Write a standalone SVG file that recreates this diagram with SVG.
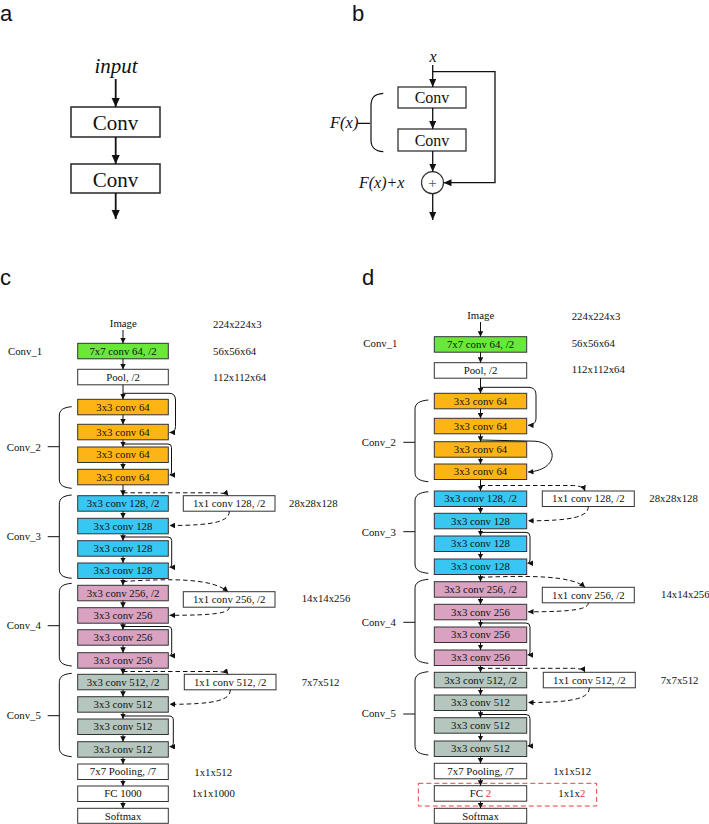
<svg xmlns="http://www.w3.org/2000/svg" width="709" height="824" viewBox="0 0 709 824">
<style>
.bg{fill:#fff}
.box{stroke:#333;stroke-width:1}
.t{font-family:"Liberation Serif","Times New Roman",serif;font-size:10.8px;fill:#111}
.c{text-anchor:middle}
.it{font-style:italic}
.lab{font-family:"Liberation Sans",Arial,sans-serif;font-size:22px;fill:#111}
.ln{fill:none;stroke:#111;stroke-width:1}
.dash{stroke-dasharray:4.5 3}
.g{fill:#6AE83A}.o{fill:#FDB515}.b{fill:#38C6F2}.p{fill:#D8A2C0}.gr{fill:#B4C6BE}.w{fill:#fff}
.red{fill:#E53935}
</style>
<defs>
<marker id="ahA" markerUnits="userSpaceOnUse" markerWidth="9" markerHeight="9" refX="10" refY="4.5" orient="auto" viewBox="0 0 10 9"><path d="M0,0 L10,4.5 L0,9 z" fill="#111"/></marker>
<marker id="ahB" markerUnits="userSpaceOnUse" markerWidth="8" markerHeight="7" refX="8" refY="3.5" orient="auto" viewBox="0 0 8 7"><path d="M0,0 L8,3.5 L0,7 z" fill="#111"/></marker>
<marker id="ah" markerUnits="userSpaceOnUse" markerWidth="5.5" markerHeight="5.6" refX="5.5" refY="2.8" orient="auto" viewBox="0 0 5.5 5.6"><path d="M0,0 L5.5,2.8 L0,5.6 z" fill="#111"/></marker>
</defs>
<rect class="bg" x="0" y="0" width="709" height="824"/>

<!-- panel labels -->
<text class="lab" x="0" y="21">a</text>
<text class="lab" x="352" y="20.5">b</text>
<text class="lab" x="0" y="285">c</text>
<text class="lab" x="362" y="285">d</text>

<!-- ===== Panel a ===== -->
<g id="a-input"><text class="t c it" x="116" y="73" style="font-size:21px">input</text></g>
<g id="a-conv1"><rect class="box w" x="71" y="107" width="89" height="30" style="stroke-width:1.6"/><text class="t c" x="115.5" y="129.5" style="font-size:21px">Conv</text></g>
<g id="a-conv2"><rect class="box w" x="71" y="164" width="89" height="29" style="stroke-width:1.6"/><text class="t c" x="115.5" y="186.5" style="font-size:21px">Conv</text></g>

<!-- ===== Panel b ===== -->
<g id="b-x"><text class="t c it" x="433" y="61.5" style="font-size:16px">x</text></g>
<g id="b-conv1"><rect class="box w" x="398" y="87" width="68" height="21" style="stroke-width:1.3"/><text class="t c" x="432" y="103" style="font-size:16px">Conv</text></g>
<g id="b-conv2"><rect class="box w" x="398" y="129" width="68" height="22" style="stroke-width:1.3"/><text class="t c" x="432" y="145.5" style="font-size:16px">Conv</text></g>
<g id="b-add"><circle cx="432.5" cy="182.7" r="11" fill="#fff" stroke="#333" stroke-width="1.2"/><text class="t c" x="432.5" y="188" style="font-size:15px;fill:#555">+</text></g>
<g id="b-fx"><text class="t it" x="330" y="128" style="font-size:16.5px">F(x)</text></g>
<g id="b-fxx"><text class="t it" x="359" y="188" style="font-size:16px">F(x)+x</text></g>

<!-- ===== Panel c nodes ===== -->
<g id="c-image"><text class="t c" x="123.3" y="327">Image</text></g>
<g id="c-conv1"><rect class="box g" x="77.7" y="343.3" width="90.6" height="15.5"/><text class="t c" x="123" y="354.7">7x7 conv 64, /2</text></g>
<g id="c-pool"><rect class="box w" x="77.7" y="369.3" width="90.6" height="15.5"/><text class="t c" x="123" y="380.7">Pool, /2</text></g>
<g id="c-o1"><rect class="box o" x="77.7" y="399.3" width="90.6" height="15.5"/><text class="t c" x="123" y="410.7">3x3 conv 64</text></g>
<g id="c-o2"><rect class="box o" x="77.7" y="424.3" width="90.6" height="15.5"/><text class="t c" x="123" y="435.7">3x3 conv 64</text></g>
<g id="c-o3"><rect class="box o" x="77.7" y="447" width="90.6" height="15.5"/><text class="t c" x="123" y="458.4">3x3 conv 64</text></g>
<g id="c-o4"><rect class="box o" x="77.7" y="469.3" width="90.6" height="15.5"/><text class="t c" x="123" y="480.7">3x3 conv 64</text></g>
<g id="c-b1"><rect class="box b" x="77.7" y="495.7" width="90.6" height="15.5"/><text class="t c" x="123" y="507.1">3x3 conv 128, /2</text></g>
<g id="c-b2"><rect class="box b" x="77.7" y="518.3" width="90.6" height="15.5"/><text class="t c" x="123" y="529.7">3x3 conv 128</text></g>
<g id="c-b3"><rect class="box b" x="77.7" y="540.7" width="90.6" height="15.5"/><text class="t c" x="123" y="552.1">3x3 conv 128</text></g>
<g id="c-b4"><rect class="box b" x="77.7" y="563" width="90.6" height="15.5"/><text class="t c" x="123" y="574.4">3x3 conv 128</text></g>
<g id="c-p1"><rect class="box p" x="77.7" y="585.3" width="90.6" height="15.5"/><text class="t c" x="123" y="596.7">3x3 conv 256, /2</text></g>
<g id="c-p2"><rect class="box p" x="77.7" y="607.7" width="90.6" height="15.5"/><text class="t c" x="123" y="619.1">3x3 conv 256</text></g>
<g id="c-p3"><rect class="box p" x="77.7" y="629.7" width="90.6" height="15.5"/><text class="t c" x="123" y="641.1">3x3 conv 256</text></g>
<g id="c-p4"><rect class="box p" x="77.7" y="652.7" width="90.6" height="15.5"/><text class="t c" x="123" y="664.1">3x3 conv 256</text></g>
<g id="c-g1"><rect class="box gr" x="77.7" y="674.3" width="90.6" height="15.5"/><text class="t c" x="123" y="685.7">3x3 conv 512, /2</text></g>
<g id="c-g2"><rect class="box gr" x="77.7" y="696.7" width="90.6" height="15.5"/><text class="t c" x="123" y="708.1">3x3 conv 512</text></g>
<g id="c-g3"><rect class="box gr" x="77.7" y="719" width="90.6" height="15.5"/><text class="t c" x="123" y="730.4">3x3 conv 512</text></g>
<g id="c-g4"><rect class="box gr" x="77.7" y="741.7" width="90.6" height="15.5"/><text class="t c" x="123" y="753.1">3x3 conv 512</text></g>
<g id="c-avg"><rect class="box w" x="77.7" y="764" width="90.6" height="15.5"/><text class="t c" x="123" y="775.4">7x7 Pooling, /7</text></g>
<g id="c-fc"><rect class="box w" x="77.7" y="786" width="90.6" height="15.5"/><text class="t c" x="123" y="797.4">FC 1000</text></g>
<g id="c-soft"><rect class="box w" x="77.7" y="808.3" width="90.6" height="15"/><text class="t c" x="123" y="819.5">Softmax</text></g>
<g id="c-s3"><rect class="box w" x="183.3" y="495.7" width="91.7" height="15.5"/><text class="t c" x="229.2" y="507.1">1x1 conv 128, /2</text></g>
<g id="c-s4"><rect class="box w" x="183.3" y="591.7" width="91.7" height="15.5"/><text class="t c" x="229.2" y="603.1">1x1 conv 256, /2</text></g>
<g id="c-s5"><rect class="box w" x="184.3" y="674.3" width="91.7" height="15.5"/><text class="t c" x="230.2" y="685.7">1x1 conv 512, /2</text></g>

<g id="c-labels">
<text class="t" x="8" y="355">Conv_1</text>
<text class="t" x="6.7" y="450.5">Conv_2</text>
<text class="t" x="6.7" y="540">Conv_3</text>
<text class="t" x="6.7" y="629">Conv_4</text>
<text class="t" x="6.7" y="719.3">Conv_5</text>
<text class="t" x="213" y="328">224x224x3</text>
<text class="t" x="213" y="355">56x56x64</text>
<text class="t" x="213" y="381">112x112x64</text>
<text class="t" x="289" y="506.7">28x28x128</text>
<text class="t" x="301.7" y="601.7">14x14x256</text>
<text class="t" x="301.7" y="685.7">7x7x512</text>
<text class="t" x="194.3" y="775.7">1x1x512</text>
<text class="t" x="191.7" y="797.3">1x1x1000</text>
</g>

<!-- ===== Panel d nodes ===== -->
<g id="d-image"><text class="t c" x="480.7" y="319">Image</text></g>
<g id="d-conv1"><rect class="box g" x="434.3" y="336.7" width="92.4" height="15.5"/><text class="t c" x="480.5" y="348.1">7x7 conv 64, /2</text></g>
<g id="d-pool"><rect class="box w" x="434.3" y="362.7" width="92.4" height="15.5"/><text class="t c" x="480.5" y="374.1">Pool, /2</text></g>
<g id="d-o1"><rect class="box o" x="434.3" y="393.3" width="92.4" height="15.5"/><text class="t c" x="480.5" y="404.7">3x3 conv 64</text></g>
<g id="d-o2"><rect class="box o" x="434.3" y="418.3" width="92.4" height="15.5"/><text class="t c" x="480.5" y="429.7">3x3 conv 64</text></g>
<g id="d-o3"><rect class="box o" x="434.3" y="441.7" width="92.4" height="15.5"/><text class="t c" x="480.5" y="453.1">3x3 conv 64</text></g>
<g id="d-o4"><rect class="box o" x="434.3" y="464" width="92.4" height="15.5"/><text class="t c" x="480.5" y="475.4">3x3 conv 64</text></g>
<g id="d-b1"><rect class="box b" x="434.3" y="491" width="92.4" height="15.5"/><text class="t c" x="480.5" y="502.4">3x3 conv 128, /2</text></g>
<g id="d-b2"><rect class="box b" x="434.3" y="513.3" width="92.4" height="15.5"/><text class="t c" x="480.5" y="524.7">3x3 conv 128</text></g>
<g id="d-b3"><rect class="box b" x="434.3" y="536" width="92.4" height="15.5"/><text class="t c" x="480.5" y="547.4">3x3 conv 128</text></g>
<g id="d-b4"><rect class="box b" x="434.3" y="559" width="92.4" height="15.5"/><text class="t c" x="480.5" y="570.4">3x3 conv 128</text></g>
<g id="d-p1"><rect class="box p" x="434.3" y="581.7" width="92.4" height="15.5"/><text class="t c" x="480.5" y="593.1">3x3 conv 256, /2</text></g>
<g id="d-p2"><rect class="box p" x="434.3" y="604.3" width="92.4" height="15.5"/><text class="t c" x="480.5" y="615.7">3x3 conv 256</text></g>
<g id="d-p3"><rect class="box p" x="434.3" y="627" width="92.4" height="15.5"/><text class="t c" x="480.5" y="638.4">3x3 conv 256</text></g>
<g id="d-p4"><rect class="box p" x="434.3" y="650" width="92.4" height="15.5"/><text class="t c" x="480.5" y="661.4">3x3 conv 256</text></g>
<g id="d-g1"><rect class="box gr" x="434.3" y="672.3" width="92.4" height="15.5"/><text class="t c" x="480.5" y="683.7">3x3 conv 512, /2</text></g>
<g id="d-g2"><rect class="box gr" x="434.3" y="695" width="92.4" height="15.5"/><text class="t c" x="480.5" y="706.4">3x3 conv 512</text></g>
<g id="d-g3"><rect class="box gr" x="434.3" y="717.7" width="92.4" height="15.5"/><text class="t c" x="480.5" y="729.1">3x3 conv 512</text></g>
<g id="d-g4"><rect class="box gr" x="434.3" y="741" width="92.4" height="15.5"/><text class="t c" x="480.5" y="752.4">3x3 conv 512</text></g>
<g id="d-avg"><rect class="box w" x="434.3" y="763.3" width="92.4" height="15.5"/><text class="t c" x="480.5" y="774.7">7x7 Pooling, /7</text></g>
<g id="d-fc"><rect class="box w" x="434.3" y="785.7" width="92.4" height="15.5"/><text class="t c" x="480.5" y="797.1">FC <tspan class="red">2</tspan></text></g>
<g id="d-soft"><rect class="box w" x="434.3" y="808.3" width="92.4" height="15"/><text class="t c" x="480.5" y="819.5">Softmax</text></g>
<g id="d-s3"><rect class="box w" x="542.3" y="491" width="92" height="15.5"/><text class="t c" x="588.3" y="502.4">1x1 conv 128, /2</text></g>
<g id="d-s4"><rect class="box w" x="542.3" y="587.3" width="92" height="15.5"/><text class="t c" x="588.3" y="598.7">1x1 conv 256, /2</text></g>
<g id="d-s5"><rect class="box w" x="543.3" y="672.3" width="92" height="15.5"/><text class="t c" x="589.3" y="683.7">1x1 conv 512, /2</text></g>
<g id="d-highlight"><rect x="418.3" y="783.3" width="178.4" height="22.7" fill="none" stroke="#E8453C" stroke-width="1" stroke-dasharray="5 3"/></g>

<g id="d-labels">
<text class="t" x="363.3" y="347.3">Conv_1</text>
<text class="t" x="361.7" y="446">Conv_2</text>
<text class="t" x="361.7" y="536">Conv_3</text>
<text class="t" x="361.7" y="626">Conv_4</text>
<text class="t" x="361.7" y="717.3">Conv_5</text>
<text class="t" x="571.7" y="320">224x224x3</text>
<text class="t" x="571.7" y="346.7">56x56x64</text>
<text class="t" x="571.7" y="373.3">112x112x64</text>
<text class="t" x="649.3" y="501.7">28x28x128</text>
<text class="t" x="661" y="598.3">14x14x256</text>
<text class="t" x="660.7" y="684">7x7x512</text>
<text class="t" x="553.3" y="775">1x1x512</text>
<text class="t" x="558.3" y="797.3">1x1x<tspan class="red">2</tspan></text>
</g>

<!-- ===== Connectors ===== -->
<g id="connectors">
<!-- panel a -->
<line class="ln" x1="115.7" y1="79" x2="115.7" y2="107" style="stroke-width:1.8" marker-end="url(#ahA)"/>
<line class="ln" x1="115.7" y1="137" x2="115.7" y2="164" style="stroke-width:1.8" marker-end="url(#ahA)"/>
<line class="ln" x1="115.7" y1="193" x2="115.7" y2="219" style="stroke-width:1.8" marker-end="url(#ahA)"/>
<!-- panel b -->
<line class="ln" x1="432.7" y1="65" x2="432.7" y2="87" style="stroke-width:1.3" marker-end="url(#ahB)"/>
<line class="ln" x1="432.7" y1="108" x2="432.7" y2="129" style="stroke-width:1.3" marker-end="url(#ahB)"/>
<line class="ln" x1="432.7" y1="151" x2="432.7" y2="171.7" style="stroke-width:1.3" marker-end="url(#ahB)"/>
<line class="ln" x1="432.7" y1="193.7" x2="432.7" y2="220" style="stroke-width:1.3" marker-end="url(#ahB)"/>
<path class="ln" d="M432.7,71.7 L495,71.7 L495,182.7 L443.5,182.7" style="stroke-width:1.3" marker-end="url(#ahB)"/>
<path class="ln" d="M358,123.3 L370,123.3 M383.3,93.3 C374,94 371,98 371,106 L371,140 C371,147 374,151 383.3,151.7" style="stroke-width:1.2"/>

<!-- panel c main flow -->
<line class="ln" x1="123" y1="330" x2="123" y2="343.3" marker-end="url(#ah)"/>
<line class="ln" x1="123" y1="358.8" x2="123" y2="369.3" marker-end="url(#ah)"/>
<line class="ln" x1="123" y1="384.8" x2="123" y2="399.3" marker-end="url(#ah)"/>
<line class="ln" x1="123" y1="414.8" x2="123" y2="424.3" marker-end="url(#ah)"/>
<line class="ln" x1="123" y1="439.8" x2="123" y2="447" marker-end="url(#ah)"/>
<line class="ln" x1="123" y1="462.5" x2="123" y2="469.3" marker-end="url(#ah)"/>
<line class="ln" x1="123" y1="484.8" x2="123" y2="495.7" marker-end="url(#ah)"/>
<line class="ln" x1="123" y1="511.2" x2="123" y2="518.3" marker-end="url(#ah)"/>
<line class="ln" x1="123" y1="533.8" x2="123" y2="540.7" marker-end="url(#ah)"/>
<line class="ln" x1="123" y1="556.2" x2="123" y2="563" marker-end="url(#ah)"/>
<line class="ln" x1="123" y1="578.5" x2="123" y2="585.3" marker-end="url(#ah)"/>
<line class="ln" x1="123" y1="600.8" x2="123" y2="607.7" marker-end="url(#ah)"/>
<line class="ln" x1="123" y1="623.2" x2="123" y2="629.7" marker-end="url(#ah)"/>
<line class="ln" x1="123" y1="645.2" x2="123" y2="652.7" marker-end="url(#ah)"/>
<line class="ln" x1="123" y1="668.2" x2="123" y2="674.3" marker-end="url(#ah)"/>
<line class="ln" x1="123" y1="689.8" x2="123" y2="696.7" marker-end="url(#ah)"/>
<line class="ln" x1="123" y1="712.2" x2="123" y2="719" marker-end="url(#ah)"/>
<line class="ln" x1="123" y1="734.5" x2="123" y2="741.7" marker-end="url(#ah)"/>
<line class="ln" x1="123" y1="757.2" x2="123" y2="764" marker-end="url(#ah)"/>
<line class="ln" x1="123" y1="779.5" x2="123" y2="786" marker-end="url(#ah)"/>
<line class="ln" x1="123" y1="801.5" x2="123" y2="808.3" marker-end="url(#ah)"/>
<!-- panel c skips -->
<path class="ln" d="M123,393.3 L169,393.3 Q175.5,393.3 175.5,400 L175.5,426.5 Q175.5,432.5 169.5,432.5" marker-end="url(#ah)"/>
<path class="ln" d="M123,444 L168,444 Q171.5,444 171.5,447.5 L171.5,472 Q171.5,475 169.5,475" marker-end="url(#ah)"/>
<path class="ln" d="M123,537 L168,537 Q171.7,537 171.7,540.5 L171.7,564 Q171.7,567.3 169.5,567.3" marker-end="url(#ah)"/>
<path class="ln" d="M123,626.5 L168,626.5 Q171.7,626.5 171.7,630 L171.7,652.5 Q171.7,655.7 169.5,655.7" marker-end="url(#ah)"/>
<path class="ln" d="M123,716 L169,716 Q173.3,716 173.3,720 L173.3,743.5 Q173.3,746.7 169.5,746.7" marker-end="url(#ah)"/>
<!-- panel c projection shortcuts -->
<path class="ln dash" d="M123,492.8 L214,492.8 Q226,492.8 228.3,495.7" marker-end="url(#ah)"/>
<path class="ln dash" d="M229.3,511.2 C229.3,521 216,525.5 169.5,525.5" marker-end="url(#ah)"/>
<path class="ln dash" d="M123,581.5 C170,578.5 212,578 228,591.7" marker-end="url(#ah)"/>
<path class="ln dash" d="M229.3,607.2 C229.3,613 216,615.3 169.5,615.3" marker-end="url(#ah)"/>
<path class="ln dash" d="M123,671.5 L214,671.5 Q226,671.5 228.3,674.3" marker-end="url(#ah)"/>
<path class="ln dash" d="M230.3,689.8 C230.3,700 216,704.3 169.5,704.3" marker-end="url(#ah)"/>
<!-- panel c braces -->
<path class="ln" d="M47.7,446.7 L59.3,446.7 M71.7,406.7 C63,407.5 59.3,410 59.3,416 L59.3,479 C59.3,485 63,487.5 71.7,488.3"/>
<path class="ln" d="M47.7,536.7 L59.3,536.7 M71.7,495 C63,495.8 59.3,498.3 59.3,504.3 L59.3,569 C59.3,575 63,577.5 71.7,578.3"/>
<path class="ln" d="M47.7,625.7 L59.3,625.7 M71.7,583.3 C63,584.1 59.3,586.6 59.3,592.6 L59.3,656.7 C59.3,662.7 63,665.2 71.7,666"/>
<path class="ln" d="M47.7,715.7 L59.3,715.7 M71.7,673.3 C63,674.1 59.3,676.6 59.3,682.6 L59.3,747.4 C59.3,753.4 63,755.9 71.7,756.7"/>

<!-- panel d main flow -->
<line class="ln" x1="480.5" y1="322" x2="480.5" y2="336.7" marker-end="url(#ah)"/>
<line class="ln" x1="480.5" y1="352.2" x2="480.5" y2="362.7" marker-end="url(#ah)"/>
<line class="ln" x1="480.5" y1="378.2" x2="480.5" y2="393.3" marker-end="url(#ah)"/>
<line class="ln" x1="480.5" y1="408.8" x2="480.5" y2="418.3" marker-end="url(#ah)"/>
<line class="ln" x1="480.5" y1="433.8" x2="480.5" y2="441.7" marker-end="url(#ah)"/>
<line class="ln" x1="480.5" y1="457.2" x2="480.5" y2="464" marker-end="url(#ah)"/>
<line class="ln" x1="480.5" y1="479.5" x2="480.5" y2="491" marker-end="url(#ah)"/>
<line class="ln" x1="480.5" y1="506.5" x2="480.5" y2="513.3" marker-end="url(#ah)"/>
<line class="ln" x1="480.5" y1="528.8" x2="480.5" y2="536" marker-end="url(#ah)"/>
<line class="ln" x1="480.5" y1="551.5" x2="480.5" y2="559" marker-end="url(#ah)"/>
<line class="ln" x1="480.5" y1="574.5" x2="480.5" y2="581.7" marker-end="url(#ah)"/>
<line class="ln" x1="480.5" y1="597.2" x2="480.5" y2="604.3" marker-end="url(#ah)"/>
<line class="ln" x1="480.5" y1="619.8" x2="480.5" y2="627" marker-end="url(#ah)"/>
<line class="ln" x1="480.5" y1="642.5" x2="480.5" y2="650" marker-end="url(#ah)"/>
<line class="ln" x1="480.5" y1="665.5" x2="480.5" y2="672.3" marker-end="url(#ah)"/>
<line class="ln" x1="480.5" y1="687.8" x2="480.5" y2="695" marker-end="url(#ah)"/>
<line class="ln" x1="480.5" y1="710.5" x2="480.5" y2="717.7" marker-end="url(#ah)"/>
<line class="ln" x1="480.5" y1="733.2" x2="480.5" y2="741" marker-end="url(#ah)"/>
<line class="ln" x1="480.5" y1="756.5" x2="480.5" y2="763.3" marker-end="url(#ah)"/>
<line class="ln" x1="480.5" y1="778.8" x2="480.5" y2="785.7" marker-end="url(#ah)"/>
<line class="ln" x1="480.5" y1="801.2" x2="480.5" y2="808.3" marker-end="url(#ah)"/>
<!-- panel d skips -->
<path class="ln" d="M480.5,387.3 L528,387.3 C534,387.5 536,390 536,396 L536,418 C536,423 533,425.3 528,425.3" marker-end="url(#ah)"/>
<path class="ln" d="M480.5,440 L535,441.2 C558,442.5 560,470 528,472" marker-end="url(#ah)"/>
<path class="ln" d="M480.5,532.4 L526,532.4 Q530,532.4 530,536.4 L530,560 Q530,563.3 527.5,563.3" marker-end="url(#ah)"/>
<path class="ln" d="M480.5,623 L526,623 Q530,623 530,627 L530,652 Q530,655 527.5,655" marker-end="url(#ah)"/>
<path class="ln" d="M480.5,714.5 L526,714.5 Q530,714.5 530,718.5 L530,743 Q530,746 527.5,746" marker-end="url(#ah)"/>
<!-- panel d projection shortcuts -->
<path class="ln dash" d="M480.5,485.5 L572,485.5 Q583,485.5 585,491" marker-end="url(#ah)"/>
<path class="ln dash" d="M588.3,506.5 C588.3,516 575,520.8 528,520.8" marker-end="url(#ah)"/>
<path class="ln dash" d="M480.5,577.3 C530,575.5 572,575.5 585,587.3" marker-end="url(#ah)"/>
<path class="ln dash" d="M588.3,602.8 C588.3,609 575,611.8 528,611.8" marker-end="url(#ah)"/>
<path class="ln dash" d="M480.5,668.3 L572,668.3 Q583,668.3 585,672.3" marker-end="url(#ah)"/>
<path class="ln dash" d="M589.3,687.8 C589.3,698 575,702.5 528,702.5" marker-end="url(#ah)"/>
<!-- panel d braces -->
<path class="ln" d="M403.3,442.3 L415,442.3 M428.3,400 C419.5,400.8 415,403.3 415,409.3 L415,472.4 C415,478.4 419.5,480.9 428.3,481.7"/>
<path class="ln" d="M403.3,531.7 L415,531.7 M428.3,491.7 C419.5,492.5 415,495 415,501 L415,564 C415,570 419.5,572.5 428.3,573.3"/>
<path class="ln" d="M403.3,622.3 L415,622.3 M428.3,579.3 C419.5,580.1 415,582.6 415,588.6 L415,654 C415,660 419.5,662.5 428.3,663.3"/>
<path class="ln" d="M403.3,714 L415,714 M428.3,671.7 C419.5,672.5 415,675 415,681 L415,745.7 C415,751.7 419.5,754.2 428.3,755"/>
</g>
</svg>
